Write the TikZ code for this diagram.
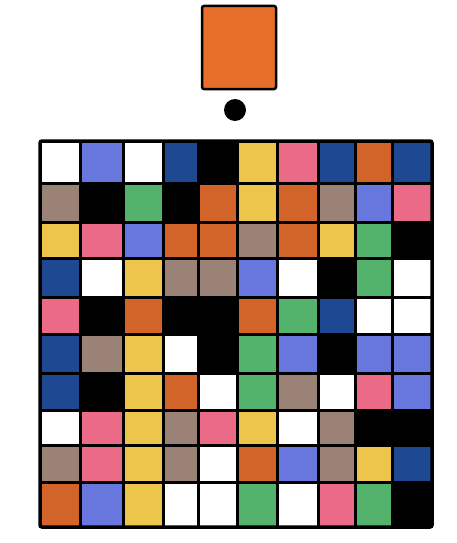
\documentclass[tikz,border=0pt]{standalone}
\definecolor{cW}{HTML}{FFFFFF}
\definecolor{cB}{HTML}{6777DD}
\definecolor{cD}{HTML}{1F4892}
\definecolor{cK}{HTML}{000000}
\definecolor{cY}{HTML}{EEC54B}
\definecolor{cP}{HTML}{EA6A88}
\definecolor{cO}{HTML}{D2642A}
\definecolor{cT}{HTML}{9B8276}
\definecolor{cG}{HTML}{53B26B}
\definecolor{topor}{HTML}{E86F2A}
\begin{document}
\begin{tikzpicture}[x=1pt,y=-1pt,
  gridline/.style={black,line width=3pt},
  frame/.style={black,line width=3.5pt,rounded corners=2pt}]
\useasboundingbox (0,0) rectangle (457,543);
\def\xs{{40,80,123,163,198,237,277,318,355,392,432}}
\def\ys{{141,183,222,258,297,334,373,410,445,482,527}}
\foreach \rw/\row in {0/{W,B,W,D,K,Y,P,D,O,D},
                      1/{T,K,G,K,O,Y,O,T,B,P},
                      2/{Y,P,B,O,O,T,O,Y,G,K},
                      3/{D,W,Y,T,T,B,W,K,G,W},
                      4/{P,K,O,K,K,O,G,D,W,W},
                      5/{D,T,Y,W,K,G,B,K,B,B},
                      6/{D,K,Y,O,W,G,T,W,P,B},
                      7/{W,P,Y,T,P,Y,W,T,K,K},
                      8/{T,P,Y,T,W,O,B,T,Y,D},
                      9/{O,B,Y,W,W,G,W,P,G,K}}{
  \foreach \col [count=\c from 0] in \row {
    \pgfmathsetmacro\xa{\xs[\c]}
    \pgfmathsetmacro\xb{\xs[\c+1]}
    \pgfmathsetmacro\ya{\ys[\rw]}
    \pgfmathsetmacro\yb{\ys[\rw+1]}
    \fill[c\col] (\xa,\ya) rectangle (\xb,\yb);
  }
}
\foreach \i in {1,...,9}{
  \pgfmathsetmacro\xx{\xs[\i]}
  \pgfmathsetmacro\yy{\ys[\i]}
  \draw[gridline] (\xx,141) -- (\xx,527);
  \draw[gridline] (40,\yy) -- (432,\yy);
}
\draw[frame] (40,141) rectangle (432,527);
\node[draw=black,line width=2.5pt,fill=topor,rounded corners=2pt,minimum width=74pt,minimum height=83pt,inner sep=0pt] (piece) at (239,47.5) {};
\node[circle,fill=black,minimum size=22pt,inner sep=0pt] (dot) at (235,110) {};
\end{tikzpicture}
\end{document}
